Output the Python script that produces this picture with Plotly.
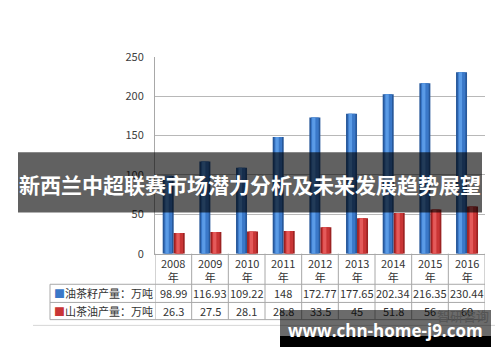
import plotly.graph_objects as go

# ---------------- data ----------------
years = ["2008", "2009", "2010", "2011", "2012", "2013", "2014", "2015", "2016"]
year_suffix = "年"
seed_output = [98.99, 116.93, 109.22, 148, 172.77, 177.65, 202.34, 216.35, 230.44]
oil_output = [26.3, 27.5, 28.1, 28.8, 33.5, 45, 51.8, 56, 60]
series_names = ["油茶籽产量：万吨", "山茶油产量：万吨"]
y_ticks = [0, 50, 100, 150, 200, 250]
title_text = "新西兰中超联赛市场潜力分析及未来发展趋势展望"
watermark_text = "www.chn-home-j9.com"
faint_mark = "智研咨询"

# ---------------- styles ----------------
W, H = 500, 362
FONT = "Noto Sans CJK SC, Noto Sans, sans-serif"
blue = ["#27589a", "#3a78c8", "#5a9be6"]
red = ["#9c2222", "#c93535", "#e45a5a"]
grid_c = "#b8b8b8"
table_c = "#a8a8a8"
text_c = "#333333"


def px_x(v):
    return v / W


def px_y(v):
    return 1 - v / H


fig = go.Figure()


def cylinder(vals, cols, offset, width, name):
    # dark edge, mid body, light highlight to suggest a cylinder
    layers = [(0.0, 1.0), (0.15, 0.7), (0.25, 0.3)]
    for (o, w), c in zip(layers, cols):
        fig.add_trace(go.Bar(
            x=years, y=vals, name=name,
            offset=offset + o * width, width=w * width,
            marker=dict(color=c, line=dict(width=0)),
            hoverinfo="skip", showlegend=False,
        ))


cylinder(seed_output, blue, -0.29, 0.3, series_names[0])
cylinder(oil_output, red, 0.01, 0.3, series_names[1])

fig.update_layout(
    width=W, height=H,
    margin=dict(l=0, r=0, t=0, b=0),
    paper_bgcolor="white", plot_bgcolor="white",
    barmode="overlay",
    showlegend=False,
    font=dict(family=FONT, size=11, color="#404040"),
    xaxis=dict(
        domain=[px_x(155), px_x(485)],
        type="category", range=[-0.5, len(years) - 0.5],
        showticklabels=False, showgrid=False, zeroline=False,
        showline=True, linecolor=table_c, linewidth=1, ticks="",
    ),
    yaxis=dict(
        domain=[px_y(256), px_y(50)],
        range=[0, 250], tickvals=y_ticks,
        showgrid=True, gridcolor=grid_c, gridwidth=1,
        zeroline=False, showline=True, linecolor=table_c, linewidth=1,
        ticks="", ticklabelstandoff=8,
        tickfont=dict(family=FONT, size=11, color="#404040"),
    ),
)

# ---------------- data table under the axis ----------------
row_top, row1, row2, row_bot = 256, 288, 307, 325
left_edge = 50
shapes = []
# vertical cell borders at category boundaries (axis coords)
for i in range(len(years) + 1):
    shapes.append(dict(type="line", xref="x", yref="paper",
                       x0=i - 0.5, x1=i - 0.5, y0=px_y(row_bot), y1=px_y(row_top),
                       line=dict(color=table_c, width=1), layer="above"))
# left border of the label column
shapes.append(dict(type="line", xref="paper", yref="paper",
                   x0=px_x(left_edge), x1=px_x(left_edge), y0=px_y(row_bot), y1=px_y(row1),
                   line=dict(color=table_c, width=1), layer="above"))
for yy in (row1, row2, row_bot):
    shapes.append(dict(type="line", xref="paper", yref="paper",
                       x0=px_x(left_edge), x1=px_x(485), y0=px_y(yy), y1=px_y(yy),
                       line=dict(color=table_c, width=1), layer="above"))

# chart outer border bottom
shapes.append(dict(type="line", xref="paper", yref="paper",
                   x0=px_x(33), x1=px_x(495), y0=px_y(331), y1=px_y(331),
                   line=dict(color="#d6d6d6", width=1), layer="above"))
# title banner
shapes.append(dict(type="rect", xref="paper", yref="paper",
                   x0=px_x(18), x1=px_x(482), y0=px_y(213), y1=px_y(150),
                   fillcolor="rgba(0,0,0,0.62)", line=dict(width=0), layer="above"))
fig.update_layout(shapes=shapes)


def fmt(v):
    return f"{v:g}"


for i, y in enumerate(years):
    fig.add_annotation(text=f"{y}<br>{year_suffix}", xref="x", yref="paper",
                       x=i, y=px_y((row_top + row1) / 2 + 1), xanchor="center", yanchor="middle",
                       showarrow=False, font=dict(family=FONT, size=11, color=text_c))
    fig.add_annotation(text=fmt(seed_output[i]), xref="x", yref="paper",
                       x=i, y=px_y((row1 + row2) / 2), xanchor="center", yanchor="middle",
                       showarrow=False, font=dict(family=FONT, size=11, color=text_c))
    fig.add_annotation(text=fmt(oil_output[i]), xref="x", yref="paper",
                       x=i, y=px_y((row2 + row_bot) / 2), xanchor="center", yanchor="middle",
                       showarrow=False, font=dict(family=FONT, size=11, color=text_c))

for name, col, (ya, yb) in zip(series_names, (blue[1], red[1]), ((row1, row2), (row2, row_bot))):
    fig.add_annotation(text=f"<span style='color:{col}'>■</span>{name}", xref="paper", yref="paper",
                       x=px_x(52), y=px_y((ya + yb) / 2), xanchor="left", yanchor="middle",
                       showarrow=False, font=dict(family=FONT, size=11, color=text_c))

# ---------------- overlays ----------------
fig.add_annotation(
    text=f"<b>{title_text}</b>", xref="paper", yref="paper",
    x=0.5, y=px_y(183), xanchor="center", yanchor="middle",
    showarrow=False, font=dict(family=FONT, size=21, color="white"),
)

# faint source mark (sits under the translucent watermark box)
fig.add_annotation(
    text=faint_mark, xref="paper", yref="paper",
    x=px_x(463), y=px_y(321), xanchor="center", yanchor="middle",
    showarrow=False, font=dict(family=FONT, size=13, color="#c8c8c8"),
)
# watermark box as annotation backgrounds so it covers the table text
fig.add_annotation(
    text=" ", xref="paper", yref="paper",
    x=px_x(280), y=px_y(315), xanchor="left", yanchor="top",
    width=211, height=27, borderpad=0, borderwidth=0,
    bgcolor="rgba(0,0,0,0.58)", showarrow=False,
)
fig.add_annotation(
    text=" ", xref="paper", yref="paper",
    x=px_x(280), y=px_y(342), xanchor="left", yanchor="top",
    width=211, height=11, borderpad=0, borderwidth=0,
    bgcolor="black", showarrow=False,
)
fig.add_annotation(
    text=f"<b>{watermark_text}</b>", xref="paper", yref="paper",
    x=px_x(385), y=px_y(336), xanchor="center", yanchor="middle",
    showarrow=False, font=dict(family="Open Sans, DejaVu Sans, sans-serif", size=17, color="white"),
)

fig.write_html("out.html")
